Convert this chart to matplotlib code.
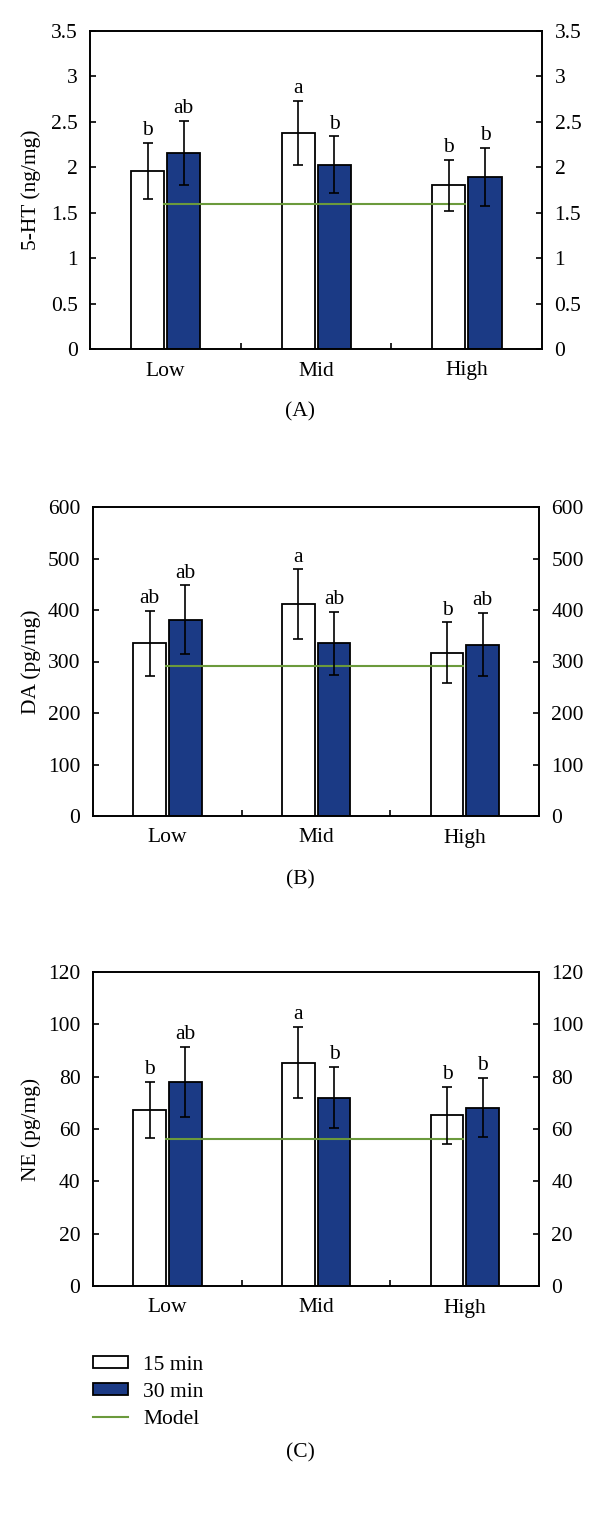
import matplotlib
matplotlib.use('Agg')
import matplotlib.pyplot as plt
import matplotlib.patches as mpatches
from matplotlib.lines import Line2D
from matplotlib.ticker import FuncFormatter

plt.rcParams['font.family'] = ['Liberation Serif', 'DejaVu Serif']

groups = ['Low', 'Mid', 'High']
series = ['15 min', '30 min']

# 5-HT (ng/mg)
ht_15 = [1.96, 2.38, 1.80]
ht_15_err = [0.31, 0.35, 0.28]
ht_30 = [2.16, 2.03, 1.89]
ht_30_err = [0.35, 0.31, 0.32]
ht_model = 1.6
ht_letters_15 = ['b', 'a', 'b']
ht_letters_30 = ['ab', 'b', 'b']

# DA (pg/mg)
da_15 = [335, 411, 317]
da_15_err = [63, 68, 59]
da_30 = [381, 335, 333]
da_30_err = [67, 62, 62]
da_model = 292
da_letters_15 = ['ab', 'a', 'b']
da_letters_30 = ['ab', 'ab', 'ab']

# NE (pg/mg)
ne_15 = [67.4, 85.3, 65.2]
ne_15_err = [10.7, 13.6, 10.9]
ne_30 = [78.1, 72.0, 68.2]
ne_30_err = [13.4, 11.8, 11.4]
ne_model = 56
ne_letters_15 = ['b', 'a', 'b']
ne_letters_30 = ['ab', 'b', 'b']

BLUE = '#1b3a85'
GREEN = '#6b9a3c'
FS = 15.5
W, H = 600, 1518


def px_axes(fig, left, right, top, bottom):
    ax = fig.add_axes([left / W, 1 - bottom / H, (right - left) / W, (bottom - top) / H])
    ax._px = (left, right)
    return ax


def panel(ax, v15, e15, v30, e30, model, l15, l30, ymax, step, ylabel):
    x = [1, 2, 3]
    off15, off30, bw = -0.118, 0.122, 0.22
    x15 = [i + off15 for i in x]
    x30 = [i + off30 for i in x]
    ax.bar(x15, v15, bw, color='white', edgecolor='black', linewidth=1.3, zorder=2)
    ax.bar(x30, v30, bw, color=BLUE, edgecolor='black', linewidth=1.3, zorder=2)
    ax.plot([x15[0] + bw / 2, x15[-1] + bw / 2], [model, model], color=GREEN, lw=1.5, zorder=3)
    for xs, vs, es in [(x15, v15, e15), (x30, v30, e30)]:
        ax.errorbar(xs, vs, yerr=es, fmt='none', ecolor='black', elinewidth=1.2,
                    capsize=3.3, capthick=1.2, zorder=4)
    for xs, vs, es, ls in [(x15, v15, e15, l15), (x30, v30, e30, l30)]:
        for xi, vi, ei, li in zip(xs, vs, es, ls):
            ax.annotate(li, (xi, vi + ei), xytext=(0, 2), textcoords='offset points',
                        ha='center', va='bottom', fontsize=FS)

    ax.set_xlim(0.5, 3.5)
    ax.set_ylim(0, ymax)
    ax.set_xticks(x)
    ax.set_xticklabels(groups, fontsize=FS)
    ax.set_xticks([1.5, 2.5], minor=True)
    ax.tick_params(axis='x', which='major', length=0, pad=9)
    ax.tick_params(axis='x', which='minor', direction='in', length=4, width=1.2)
    ticks = [i * step for i in range(int(round(ymax / step)) + 1)]
    ax.set_yticks(ticks)
    ax.yaxis.set_major_formatter(FuncFormatter(lambda v, p: '%g' % v))
    ax.tick_params(axis='y', direction='in', length=4, width=1.2, labelsize=FS,
                   left=True, right=True, labelleft=True, labelright=True, pad=9)
    for s in ax.spines.values():
        s.set_linewidth(1.4)
    ax.set_ylabel(ylabel, fontsize=FS)
    left, right = ax._px
    ax.yaxis.set_label_coords((41 - left) / (right - left), 0.5)


def tag(fig, text, y):
    fig.text(0.5, 1 - y / H, text, ha='center', va='center', fontsize=FS)


fig = plt.figure(figsize=(6, 15.18), dpi=100)

axA = px_axes(fig, 90, 542, 31, 349)
panel(axA, ht_15, ht_15_err, ht_30, ht_30_err, ht_model, ht_letters_15, ht_letters_30,
      3.5, 0.5, '5-HT (ng/mg)')
tag(fig, '(A)', 412)

axB = px_axes(fig, 93, 539, 507, 816)
panel(axB, da_15, da_15_err, da_30, da_30_err, da_model, da_letters_15, da_letters_30,
      600, 100, 'DA (pg/mg)')
tag(fig, '(B)', 880)

axC = px_axes(fig, 93, 539, 972, 1286)
panel(axC, ne_15, ne_15_err, ne_30, ne_30_err, ne_model, ne_letters_15, ne_letters_30,
      120, 20, 'NE (pg/mg)')
tag(fig, '(C)', 1453)

handles = [mpatches.Patch(facecolor='white', edgecolor='black', linewidth=1.3),
           mpatches.Patch(facecolor=BLUE, edgecolor='black', linewidth=1.3),
           Line2D([0], [0], color=GREEN, lw=1.5)]
fig.legend(handles, series + ['Model'], loc='upper left',
           bbox_to_anchor=(93 / W, 1 - 1356 / H), frameon=False, fontsize=FS,
           handlelength=1.63, handleheight=0.5, handletextpad=0.7, labelspacing=0.36,
           borderaxespad=0, borderpad=0)

fig.savefig('out.png', dpi=100)
